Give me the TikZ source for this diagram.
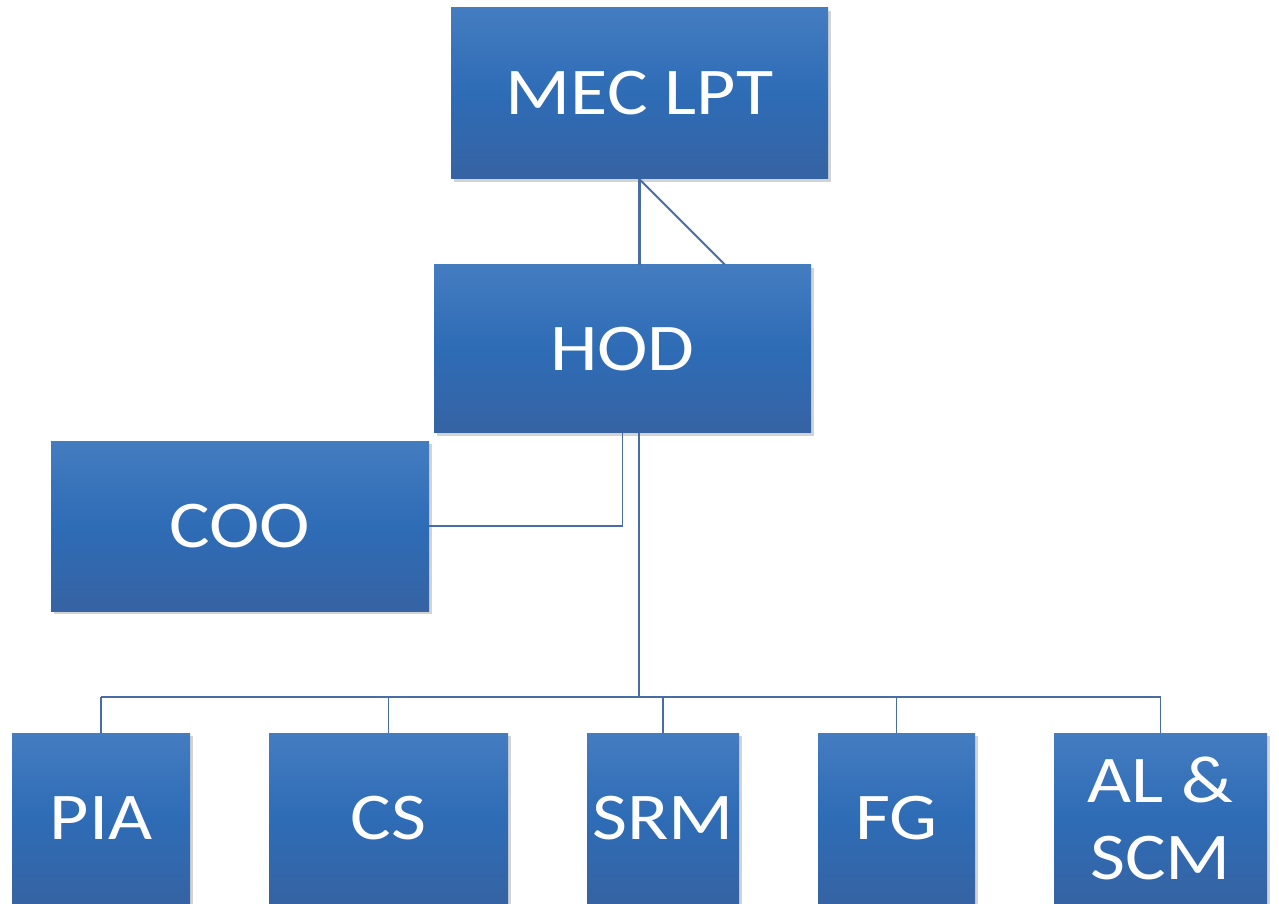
\documentclass[tikz,border=0pt]{standalone}
\usepackage{fontspec}
\setmainfont{Carlito}[FakeStretch=1.14]
\usetikzlibrary{shadows}
\definecolor{boxtop}{RGB}{68,124,192}
\definecolor{boxmid}{RGB}{46,108,182}
\definecolor{boxbot}{RGB}{54,99,163}
\definecolor{linkblue}{RGB}{72,108,166}
\begin{document}
\begin{tikzpicture}[
	orgbox/.style={rectangle,inner sep=0pt,top color=boxtop,bottom color=boxbot,middle color=boxmid,
		text=white,font=\fontsize{38}{44}\selectfont,align=center,
		drop shadow={opacity=0.35,shadow xshift=0.06cm,shadow yshift=-0.06cm}},
	link/.style={draw=linkblue,line width=1.1pt},
	mainlink/.style={draw=linkblue,line width=1.6pt}
]
\useasboundingbox (0,0) rectangle (25.58,-18.08);
\node[orgbox,minimum width=7.54cm,minimum height=3.42cm] (mec) at (12.79,-1.87) {MEC LPT};
\node[orgbox,minimum width=7.54cm,minimum height=3.36cm] (hod) at (12.45,-6.98) {HOD};
\node[orgbox,minimum width=7.56cm,minimum height=3.40cm] (coo) at (4.80,-10.52) {COO};
\node[orgbox,minimum width=3.56cm,minimum height=3.42cm] (pia) at (2.02,-16.37) {PIA};
\node[orgbox,minimum width=4.78cm,minimum height=3.42cm] (cs) at (7.77,-16.37) {CS};
\node[orgbox,minimum width=3.04cm,minimum height=3.42cm] (srm) at (13.26,-16.37) {SRM};
\node[orgbox,minimum width=3.14cm,minimum height=3.42cm] (fg) at (17.93,-16.37) {FG};
\node[orgbox,minimum width=4.26cm,minimum height=3.42cm] (al) at (23.21,-16.37) {AL \&\\SCM};
\coordinate (bus) at (12.78,-13.94);
\draw[mainlink] (mec.south) -- (mec.south |- hod.north);
\draw[link] (mec.south) -- ([xshift=2.05cm]hod.north);
\draw[link] (hod.south) |- (coo.east);
\draw[mainlink] (bus |- hod.south) -- (bus);
\draw[link] (pia.north |- bus) -- (al.north |- bus);
\foreach \n in {pia,cs,srm,fg,al}
	\draw[link] (\n.north |- bus) -- (\n.north);
\end{tikzpicture}
\end{document}
